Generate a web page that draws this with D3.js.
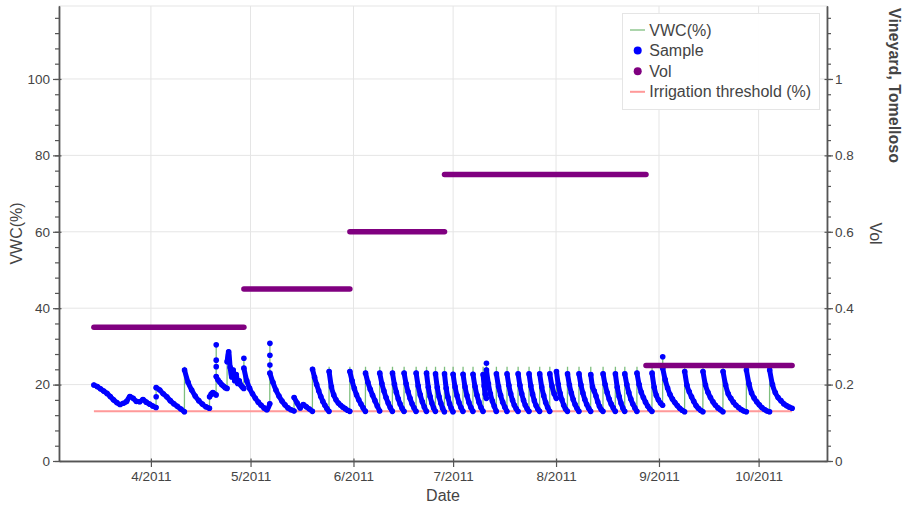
<!DOCTYPE html>
<html>
<head>
<meta charset="utf-8">
<script src="https://cdn.jsdelivr.net/npm/d3@7"></script>
<style>
  body { margin: 0; background: #fff; }
  svg text { font-family: "Liberation Sans", Arial, Helvetica, sans-serif; fill: #444; }
</style>
</head>
<body>
<script>
// Soil moisture (VWC) for the Tomelloso vineyard.
// Each cycle runs from one watering event to the next; its values are the
// samples spread evenly across that stretch of time.

var cycleStart = [
  "2011-03-14 20:00", "2011-04-02 14:00", "2011-04-11 03:00", "2011-04-18 16:00",
  "2011-04-20 16:00", "2011-04-23 23:00", "2011-04-29 00:00", "2011-05-06 20:00",
  "2011-05-14 03:00", "2011-05-19 16:00", "2011-05-24 16:00", "2011-05-30 22:00",
  "2011-06-04 15:00", "2011-06-08 22:00", "2011-06-12 18:00", "2011-06-16 06:00",
  "2011-06-19 21:00", "2011-06-23 00:00", "2011-06-25 17:00", "2011-06-28 10:00",
  "2011-07-01 00:00", "2011-07-04 00:00", "2011-07-07 00:00", "2011-07-10 01:00",
  "2011-07-11 01:00", "2011-07-14 01:00", "2011-07-17 06:00", "2011-07-20 14:00",
  "2011-07-23 21:00", "2011-07-27 02:00", "2011-07-30 03:00", "2011-08-01 03:00",
  "2011-08-04 11:00", "2011-08-07 22:00", "2011-08-11 11:00", "2011-08-15 04:00",
  "2011-08-18 21:00", "2011-08-21 17:00", "2011-08-25 09:00", "2011-08-29 22:00",
  "2011-09-02 03:00", "2011-09-08 18:00", "2011-09-14 06:00", "2011-09-20 07:00",
  "2011-09-27 08:00", "2011-10-04 08:00"
];
var dataEnd = "2011-10-11 02:00";

// top of the VWC line at the watering event (null = no spike)
var cyclePeak = [
  null, null, 24.7, null, 30.4, null, 26.9, 30.8, null, 24.7, 24.7, 24.7,
  24.7, 24.7, 24.7, 24.7, 24.7, 24.7, 24.7, 24.7, 24.7, 24.7, 24.7, 24.7,
  25.6, 24.7, 24.7, 24.7, 24.7, 24.7, 24.7, null, 24.7, 24.7, 24.7, 24.7,
  24.7, 24.7, 24.7, 24.7, 27.3, 24.7, 24.7, 24.7, 24.7, 24.7
];

var cycleValues = [
  [19.9, 19.5, 18.9, 18.3, 17.7, 16.9, 16.0, 15.3, 14.8, 15.1, 15.6, 16.9, 16.4, 15.6, 15.5, 16.1, 15.4, 14.9, 14.4, 14.0],
  [19.2, 18.6, 17.6, 16.8, 15.8, 15.0, 14.3, 13.6, 12.9],
  [23.8, 20.6, 18.6, 17.0, 15.8, 14.9, 14.2, 13.8],
  [16.8, 17.5, 17.9, 17.6, 17.3],
  [22.1, 21.2, 20.6, 20.0, 19.6, 19.2, 19.0],
  [26.0, 28.6, 24.5, 22.0, 23.8, 21.0, 22.6, 20.3, 21.0, 19.9, 19.4, 19.0],
  [24.3, 21.0, 19.0, 17.6, 16.4, 15.4, 14.6, 13.9, 13.4, 15.0],
  [23.0, 20.6, 18.6, 17.0, 15.7, 14.7, 13.9, 13.4, 13.1],
  [16.6, 15.2, 13.9, 14.8, 14.2, 13.6, 13.0],
  [24.0, 21.9, 20.0, 18.4, 16.9, 15.6, 14.6, 13.7, 13.0],
  [23.4, 19.4, 17.3, 16.0, 15.2, 14.6, 14.1, 13.7, 13.3, 13.0],
  [23.4, 21.0, 19.0, 17.3, 16.0, 14.9, 13.9, 13.0],
  [23.0, 20.6, 18.8, 17.2, 15.8, 14.4, 13.1],
  [23.0, 20.3, 18.3, 16.6, 15.2, 14.0, 13.0],
  [23.0, 20.1, 18.0, 16.3, 14.9, 13.8, 13.0],
  [23.0, 20.2, 18.1, 16.4, 15.0, 13.9, 13.0],
  [23.0, 19.6, 17.3, 15.5, 14.1, 13.0],
  [23.0, 19.3, 16.9, 15.2, 13.9, 13.0],
  [22.8, 19.2, 16.8, 15.1, 13.8, 12.9],
  [22.8, 19.0, 16.7, 15.0, 13.8, 12.9],
  [22.7, 19.4, 17.1, 15.3, 14.0, 13.0],
  [22.7, 19.4, 17.1, 15.3, 14.0, 13.0],
  [22.7, 19.5, 17.2, 15.4, 14.0, 13.0],
  [22.6, 19.6, 17.5, 16.4],
  [23.8, 20.2, 17.6, 15.7, 14.3, 13.0],
  [22.8, 19.5, 17.2, 15.4, 14.1, 13.0],
  [22.8, 19.8, 17.6, 15.9, 14.6, 13.7, 13.0],
  [22.8, 19.8, 17.6, 15.9, 14.6, 13.7, 13.0],
  [22.8, 19.7, 17.5, 15.8, 14.5, 13.6, 13.0],
  [22.8, 19.4, 17.1, 15.3, 14.0, 13.0],
  [22.8, 19.6, 17.6, 16.4],
  [23.4, 20.0, 17.7, 16.0, 14.6, 13.6, 13.0],
  [22.8, 19.9, 17.8, 16.1, 14.8, 13.8, 13.0],
  [22.8, 19.9, 17.8, 16.1, 14.8, 13.8, 13.0],
  [22.6, 19.4, 18.3, 17.0, 15.5, 14.3, 13.5, 13.0],
  [22.8, 20.0, 17.9, 16.2, 14.9, 13.9, 13.0],
  [22.8, 19.3, 16.9, 15.2, 13.9, 13.0],
  [22.8, 20.0, 17.9, 16.2, 14.9, 13.9, 13.0],
  [23.0, 20.0, 18.0, 16.6, 15.4, 14.4, 13.6, 13.0],
  [23.0, 19.3, 17.2, 16.0, 15.2, 14.6],
  [24.3, 21.3, 19.1, 17.4, 16.2, 15.3, 14.5, 13.8, 13.3, 12.9],
  [23.4, 19.8, 18.1, 16.8, 15.6, 14.5, 13.8, 13.3, 12.9],
  [23.4, 19.9, 18.0, 16.6, 15.5, 14.6, 13.9, 13.4, 12.9],
  [23.4, 19.9, 17.6, 16.4, 15.4, 14.6, 14.0, 13.5, 13.1, 12.9],
  [23.8, 20.2, 17.8, 16.5, 15.5, 14.7, 14.0, 13.5, 13.1, 12.9],
  [23.8, 20.0, 17.9, 16.6, 15.8, 15.0, 14.5, 14.1, 13.8]
];

// single samples taken right at a watering event
var spikeDates = ["2011-04-02 14:00", "2011-04-20 16:00", "2011-04-20 16:00", "2011-04-20 16:00",
                  "2011-04-29 00:00", "2011-05-06 20:00", "2011-05-06 20:00", "2011-05-06 20:00",
                  "2011-07-11 01:00", "2011-09-02 03:00"];
var spikeValues = [16.8, 30.4, 26.4, 24.7, 26.9, 30.8, 27.7, 25.1, 25.6, 27.3];

// irrigation volume, constant over each period
var volStart = ["2011-03-14 20:00", "2011-04-29 00:00", "2011-05-30 22:00", "2011-06-28 10:00", "2011-08-28 02:00"];
var volEnd = ["2011-04-29 00:00", "2011-05-30 22:00", "2011-06-28 10:00", "2011-08-28 02:00", "2011-10-11 02:00"];
var volValue = [0.35, 0.45, 0.60, 0.75, 0.25];

var threshold = 13;

var monthTicks = ["2011-04-01 00:00", "2011-05-01 00:00", "2011-06-01 00:00", "2011-07-01 00:00",
                  "2011-08-01 00:00", "2011-09-01 00:00", "2011-10-01 00:00"];
var vwcTicks = [0, 20, 40, 60, 80, 100];
var volTicks = [0, 0.2, 0.4, 0.6, 0.8, 1];

var W = 903, H = 505;
var plotLeft = 59, plotRight = 827, plotTop = 6, plotBottom = 461;
var yMax = 119.1;

var parse = d3.timeParse("%Y-%m-%d %H:%M");
var HOUR = 3600 * 1000;

// build the sample segments
var segments = cycleStart.map(function(s, k) {
  var t0 = parse(s);
  var t1 = k < cycleStart.length - 1 ? new Date(+parse(cycleStart[k + 1]) - HOUR) : parse(dataEnd);
  var vals = cycleValues[k];
  return vals.map(function(v, i) {
    return { date: new Date(+t0 + (t1 - t0) * i / (vals.length - 1)), value: v };
  });
});

var vwcLine = [];
segments.forEach(function(seg, k) {
  if (cyclePeak[k] != null) vwcLine.push({ date: parse(cycleStart[k]), value: cyclePeak[k] });
  seg.forEach(function(p) { vwcLine.push(p); });
});

var first = parse(cycleStart[0]), last = parse(dataEnd);
var pad = (last - first) * 0.05;

var x = d3.scaleTime().domain([new Date(+first - pad), new Date(+last + pad)]).range([plotLeft, plotRight]);
var y = d3.scaleLinear().domain([0, yMax]).range([plotBottom, plotTop]);
var yVol = d3.scaleLinear().domain([0, yMax / 100]).range([plotBottom, plotTop]);

var svg = d3.select("body").append("svg")
  .attr("width", W)
  .attr("height", H);

// grid
svg.append("g").selectAll("line").data(monthTicks).join("line")
  .attr("x1", function(d) { return x(parse(d)); })
  .attr("x2", function(d) { return x(parse(d)); })
  .attr("y1", plotTop).attr("y2", plotBottom)
  .attr("stroke", "#e5e5e5");
svg.append("g").selectAll("line").data(vwcTicks.slice(1)).join("line")
  .attr("x1", plotLeft).attr("x2", plotRight)
  .attr("y1", function(d) { return y(d); })
  .attr("y2", function(d) { return y(d); })
  .attr("stroke", "#e5e5e5");
svg.append("rect")
  .attr("x", plotLeft).attr("y", plotTop)
  .attr("width", plotRight - plotLeft).attr("height", plotBottom - plotTop)
  .attr("fill", "none").attr("stroke", "#e5e5e5");

// irrigation threshold
svg.append("line")
  .attr("x1", x(first)).attr("x2", x(last))
  .attr("y1", y(threshold)).attr("y2", y(threshold))
  .attr("stroke", "#ff9999").attr("stroke-width", 2);

// VWC line
var line = d3.line().x(function(d) { return x(d.date); }).y(function(d) { return y(d.value); });
svg.append("path")
  .datum(vwcLine)
  .attr("d", line)
  .attr("fill", "none")
  .attr("stroke", "#008000")
  .attr("stroke-opacity", 0.5)
  .attr("stroke-width", 1.3);

// samples
var curve = d3.line().curve(d3.curveMonotoneX)
  .x(function(d) { return x(d.date); }).y(function(d) { return y(d.value); });
var sampleG = svg.append("g");
sampleG.selectAll("path").data(segments).join("path")
  .attr("d", curve)
  .attr("fill", "none")
  .attr("stroke", "blue")
  .attr("stroke-width", 5)
  .attr("stroke-linecap", "round")
  .attr("stroke-linejoin", "round");
sampleG.selectAll("circle.s").data(d3.merge(segments)).join("circle")
  .attr("class", "s")
  .attr("cx", function(d) { return x(d.date); })
  .attr("cy", function(d) { return y(d.value); })
  .attr("r", 2.8)
  .attr("fill", "blue");
sampleG.selectAll("circle.p").data(spikeValues).join("circle")
  .attr("class", "p")
  .attr("cx", function(d, i) { return x(parse(spikeDates[i])); })
  .attr("cy", function(d) { return y(d); })
  .attr("r", 2.8)
  .attr("fill", "blue");

// Vol
svg.append("g").selectAll("line").data(volValue).join("line")
  .attr("x1", function(d, i) { return x(parse(volStart[i])); })
  .attr("x2", function(d, i) { return x(parse(volEnd[i])); })
  .attr("y1", function(d) { return yVol(d); })
  .attr("y2", function(d) { return yVol(d); })
  .attr("stroke", "#800080")
  .attr("stroke-width", 5.5)
  .attr("stroke-linecap", "round");

// axes
function styleAxis(g) {
  g.selectAll(".domain").attr("stroke", "#555").attr("stroke-width", 1.3);
  g.selectAll(".tick line").attr("stroke", "#555").attr("stroke-width", 1.2);
  g.selectAll("text").attr("fill", "#444").style("font-size", "13.5px")
    .style("font-family", "'Liberation Sans', Arial, Helvetica, sans-serif");
}
var minorVwc = d3.range(0, yMax, 4);
var minorVol = d3.range(0, yMax / 100, 0.04);

svg.append("g").attr("transform", "translate(" + plotLeft + ",0)")
  .call(d3.axisLeft(y).tickValues(minorVwc).tickSize(4).tickFormat("").tickSizeOuter(0))
  .call(styleAxis);
svg.append("g").attr("transform", "translate(" + plotLeft + ",0)")
  .call(d3.axisLeft(y).tickValues(vwcTicks).tickSize(-2.5).tickFormat("").tickSizeOuter(0))
  .call(styleAxis);
svg.append("g").attr("transform", "translate(" + plotLeft + ",0)")
  .call(d3.axisLeft(y).tickValues(vwcTicks).tickSize(6).tickPadding(3).tickSizeOuter(0))
  .call(styleAxis);

svg.append("g").attr("transform", "translate(" + plotRight + ",0)")
  .call(d3.axisRight(yVol).tickValues(minorVol).tickSize(4).tickFormat("").tickSizeOuter(0))
  .call(styleAxis);
svg.append("g").attr("transform", "translate(" + plotRight + ",0)")
  .call(d3.axisRight(yVol).tickValues(volTicks).tickSize(-2.5).tickFormat("").tickSizeOuter(0))
  .call(styleAxis);
svg.append("g").attr("transform", "translate(" + plotRight + ",0)")
  .call(d3.axisRight(yVol).tickValues(volTicks).tickSize(6).tickPadding(2).tickSizeOuter(0)
    .tickFormat(d3.format("~g")))
  .call(styleAxis);

var months = monthTicks.map(parse);
svg.append("g").attr("transform", "translate(0," + plotBottom + ")")
  .call(d3.axisBottom(x).tickValues(months).tickSize(-2.5).tickFormat("").tickSizeOuter(0))
  .call(styleAxis);
svg.append("g").attr("transform", "translate(0," + plotBottom + ")")
  .call(d3.axisBottom(x).tickValues(months).tickSize(6).tickPadding(4).tickSizeOuter(0)
    .tickFormat(d3.timeFormat("%-m/%Y")))
  .call(styleAxis);

// axis labels and title
var midY = (plotTop + plotBottom) / 2;
svg.append("text")
  .attr("x", (plotLeft + plotRight) / 2).attr("y", 501)
  .attr("text-anchor", "middle")
  .style("font-size", "16px")
  .text("Date");
svg.append("text")
  .attr("transform", "translate(22," + midY + ") rotate(-90)")
  .attr("text-anchor", "middle")
  .style("font-size", "16px")
  .text("VWC(%)");
svg.append("text")
  .attr("transform", "translate(870," + midY + ") rotate(90)")
  .attr("text-anchor", "middle")
  .style("font-size", "16px")
  .text("Vol");
svg.append("text")
  .attr("transform", "translate(888.5,8) rotate(90)")
  .attr("text-anchor", "start")
  .style("font-size", "16px")
  .style("font-weight", "bold")
  .text("Vineyard, Tomelloso");

// legend
var legendItems = [
  { label: "VWC(%)", kind: "line", color: "#008000", opacity: 0.5, width: 1.3 },
  { label: "Sample", kind: "dot", color: "blue" },
  { label: "Vol", kind: "dot", color: "#800080" },
  { label: "Irrigation threshold (%)", kind: "line", color: "#ff9999", opacity: 1, width: 2 }
];
var legend = svg.append("g");
legend.append("rect")
  .attr("x", 622.5).attr("y", 13.5)
  .attr("width", 197).attr("height", 96)
  .attr("fill", "#fff").attr("fill-opacity", 0.95)
  .attr("stroke", "#e5e5e5");
var rows = legend.selectAll("g").data(legendItems).join("g")
  .attr("transform", function(d, i) { return "translate(0," + (30 + i * 20.6) + ")"; });
rows.filter(function(d) { return d.kind == "line"; }).append("line")
  .attr("x1", 630).attr("x2", 645)
  .attr("stroke", function(d) { return d.color; })
  .attr("stroke-opacity", function(d) { return d.opacity; })
  .attr("stroke-width", function(d) { return d.width; });
rows.filter(function(d) { return d.kind == "dot"; }).append("circle")
  .attr("cx", 637.7).attr("r", 4)
  .attr("fill", function(d) { return d.color; });
rows.append("text")
  .attr("x", 649.3).attr("dy", "0.35em")
  .style("font-size", "16px")
  .text(function(d) { return d.label; });
</script>
</body>
</html>
